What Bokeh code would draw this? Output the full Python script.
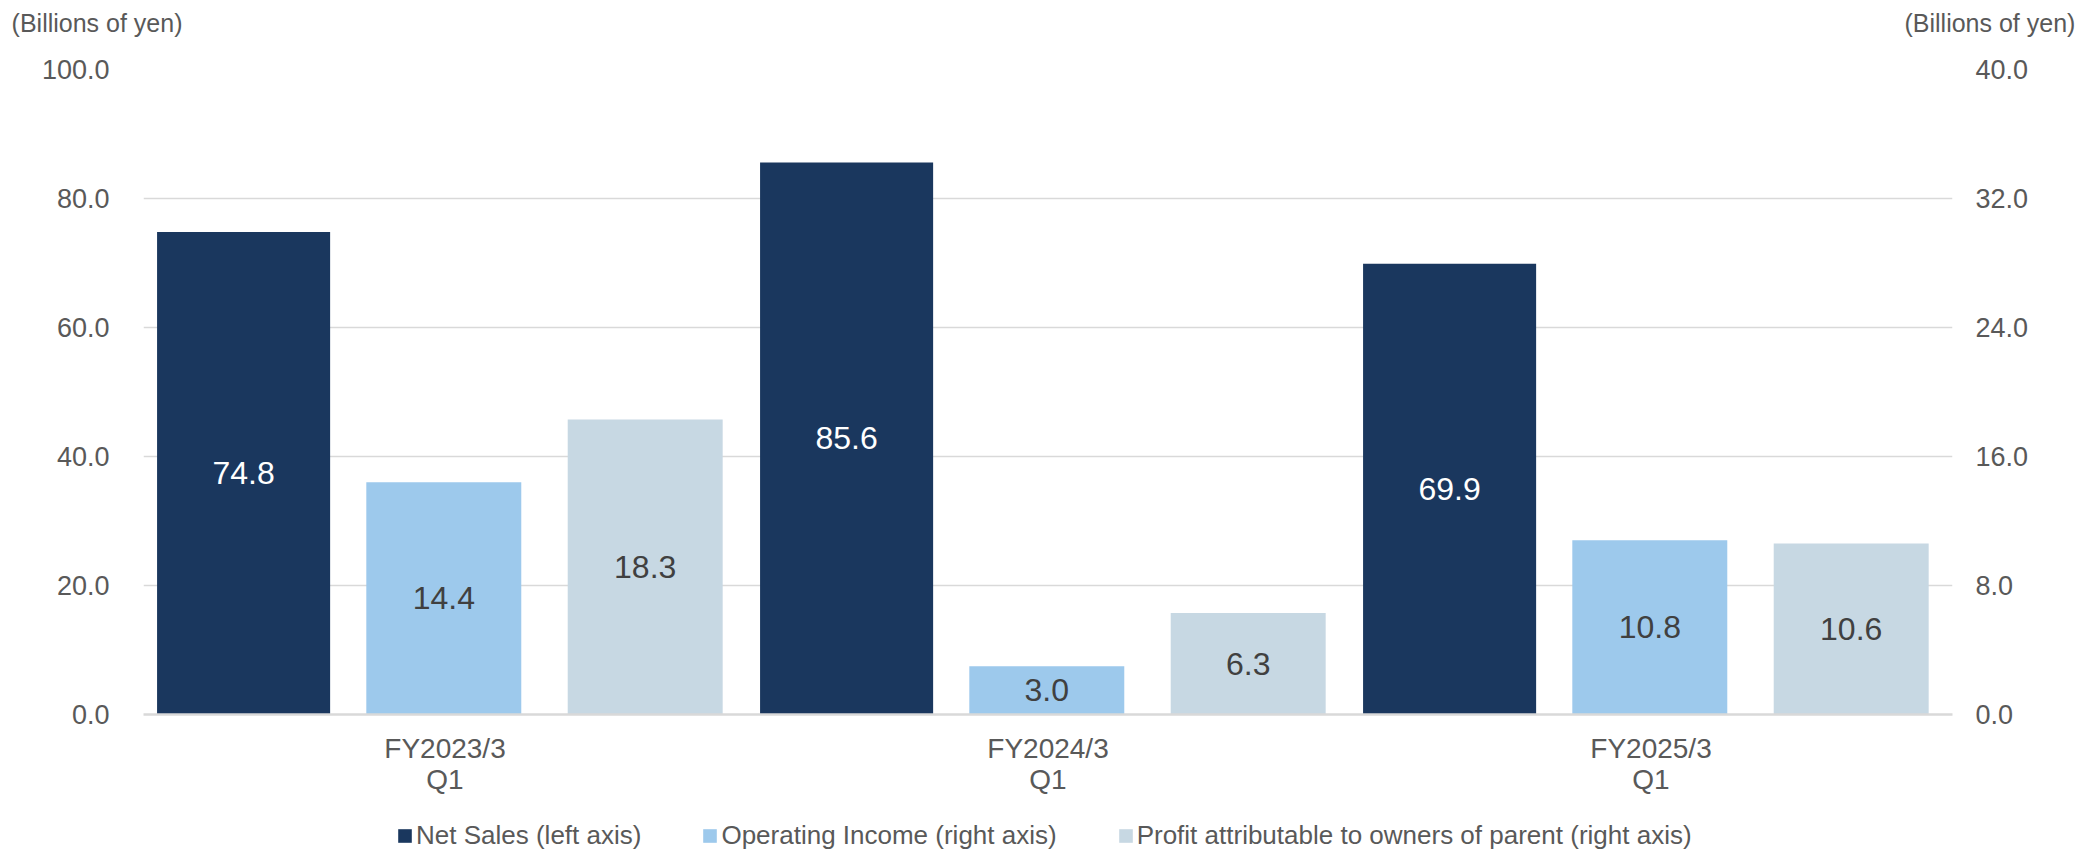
from bokeh.plotting import figure
from bokeh.layouts import column
from bokeh.models import (FactorRange, Range1d, LinearAxis, FixedTicker, NumeralTickFormatter,
                          ColumnDataSource, Legend, LegendItem)
from bokeh.transform import dodge
from bokeh.core.properties import value
from bokeh.embed import file_html
from bokeh.resources import INLINE

# ---- data ----
categories = ["FY2023/3\nQ1", "FY2024/3\nQ1", "FY2025/3\nQ1"]
net_sales = [74.8, 85.6, 69.9]          # left axis
operating_income = [14.4, 3.0, 10.8]    # right axis
profit_parent = [18.3, 6.3, 10.6]       # right axis
left_ticks = [0, 20, 40, 60, 80, 100]
right_ticks = [0, 8, 16, 24, 32, 40]
series_names = ["Net Sales (left axis)",
                "Operating Income (right axis)",
                "Profit attributable to owners of parent (right axis)"]
unit_label = "(Billions of yen)"

FONT = "Liberation Sans"
C_NS, C_OI, C_PR = "#1A375E", "#9DC9EC", "#C7D8E3"
GRID = "#D9D9D9"
TXT = "#595959"

W = 2098
H_TOP, H_MAIN, H_LEG = 40, 760, 52
BL, BR = 143, 146   # side borders (frames of all strips are aligned)


def strip(height):
    f = figure(width=W, height=height, x_range=Range1d(0, W - BL - BR),
               y_range=Range1d(0, height), output_backend="svg",
               toolbar_location=None, x_axis_type=None,
               min_border_left=BL, min_border_right=BR,
               min_border_top=0, min_border_bottom=0)
    f.outline_line_color = None
    f.ygrid.visible = False
    return f


# ---------------- top strip: unit labels (as axis tick labels) ----------------
top = strip(H_TOP)
mid = H_TOP - 22
ta = top.yaxis[0]
ta.ticker = FixedTicker(ticks=[mid])
ta.major_label_overrides = {mid: unit_label}
ta.axis_line_color = None
ta.major_tick_line_color = None
ta.minor_tick_line_color = None
ta.major_label_standoff = -45
ta.major_label_text_font = FONT
ta.major_label_text_font_size = "25px"
ta.major_label_text_color = TXT
tr = LinearAxis(ticker=FixedTicker(ticks=[mid]), major_label_overrides={mid: unit_label})
tr.axis_line_color = None
tr.major_tick_line_color = None
tr.minor_tick_line_color = None
tr.major_label_standoff = -54
tr.major_label_text_font = FONT
tr.major_label_text_font_size = "25px"
tr.major_label_text_color = TXT
top.add_layout(tr, "right")

# ---------------- main chart ----------------
src = ColumnDataSource(dict(
    cat=categories,
    ns=net_sales, oi=operating_income, pr=profit_parent,
    ns_mid=[v / 2 for v in net_sales],
    oi_mid=[v / 2 for v in operating_income],
    pr_mid=[v / 2 for v in profit_parent],
    ns_txt=["%.1f" % v for v in net_sales],
    oi_txt=["%.1f" % v for v in operating_income],
    pr_txt=["%.1f" % v for v in profit_parent],
))

p = figure(x_range=FactorRange(*categories, range_padding=0),
           y_range=Range1d(0, 100),
           width=W, height=H_MAIN, output_backend="svg", toolbar_location=None,
           min_border_left=BL, min_border_right=BR, min_border_top=29,
           min_border_bottom=86)
p.extra_y_ranges = {"right": Range1d(0, 40)}
p.outline_line_color = None

p.xgrid.visible = False
p.ygrid.grid_line_color = GRID
p.ygrid.grid_line_width = 1.5
p.ygrid.ticker = FixedTicker(ticks=left_ticks)

ya = p.yaxis[0]
ya.ticker = FixedTicker(ticks=left_ticks)
ya.formatter = NumeralTickFormatter(format="0.0")
ya.axis_line_color = None
ya.major_tick_line_color = None
ya.minor_tick_line_color = None
ya.major_label_standoff = 28
ya.major_label_text_font = FONT
ya.major_label_text_font_size = "27px"
ya.major_label_text_color = TXT

ra = LinearAxis(y_range_name="right", ticker=FixedTicker(ticks=right_ticks),
                formatter=NumeralTickFormatter(format="0.0"))
ra.axis_line_color = None
ra.major_tick_line_color = None
ra.minor_tick_line_color = None
ra.major_label_standoff = 17
ra.major_label_text_font = FONT
ra.major_label_text_font_size = "27px"
ra.major_label_text_color = TXT
p.add_layout(ra, "right")

xa = p.xaxis[0]
xa.axis_line_color = GRID
xa.axis_line_width = 2.5
xa.major_tick_line_color = None
xa.minor_tick_line_color = None
xa.major_label_standoff = 12
xa.major_label_text_font = FONT
xa.major_label_text_font_size = "28px"
xa.major_label_text_color = TXT
xa.major_label_text_line_height = 1.0

r_ns = p.vbar(x=dodge("cat", -0.334, range=p.x_range), top="ns", width=0.287,
              source=src, fill_color=C_NS, line_color=None)
r_oi = p.vbar(x=dodge("cat", -0.002, range=p.x_range), top="oi", width=0.257,
              source=src, fill_color=C_OI, line_color=None, y_range_name="right")
r_pr = p.vbar(x=dodge("cat", 0.332, range=p.x_range), top="pr", width=0.257,
              source=src, fill_color=C_PR, line_color=None, y_range_name="right")

common = dict(source=src, text_align="center", text_baseline="middle",
              text_font=value(FONT), text_font_size="32px")
p.text(x=dodge("cat", -0.334, range=p.x_range), y="ns_mid", text="ns_txt",
       text_color="white", **common)
p.text(x=dodge("cat", -0.002, range=p.x_range), y="oi_mid", text="oi_txt",
       text_color="#404040", y_range_name="right", **common)
p.text(x=dodge("cat", 0.332, range=p.x_range), y="pr_mid", text="pr_txt",
       text_color="#404040", y_range_name="right", **common)

# ---------------- legend strip ----------------
leg = strip(H_LEG)
leg.yaxis.visible = False
proxy = dict(x=[0], top=[0], bottom=[0], width=0)   # zero-size legend proxies
l_ns = leg.vbar(fill_color=C_NS, line_color=None, **proxy)
l_oi = leg.vbar(fill_color=C_OI, line_color=None, **proxy)
l_pr = leg.vbar(fill_color=C_PR, line_color=None, **proxy)
legend = Legend(items=[LegendItem(label=series_names[0], renderers=[l_ns]),
                       LegendItem(label=series_names[1], renderers=[l_oi]),
                       LegendItem(label=series_names[2], renderers=[l_pr])],
                orientation="horizontal", location=(396 - BL, 1),
                glyph_width=17, glyph_height=17, label_standoff=3, spacing=60,
                padding=0, margin=0, border_line_color=None,
                background_fill_alpha=0,
                label_text_font=FONT, label_text_font_size="26px",
                label_text_color=TXT, label_height=26)
leg.add_layout(legend, "center")

layout = column(top, p, leg, spacing=0)
open("out.html", "w").write(file_html(layout, INLINE))
